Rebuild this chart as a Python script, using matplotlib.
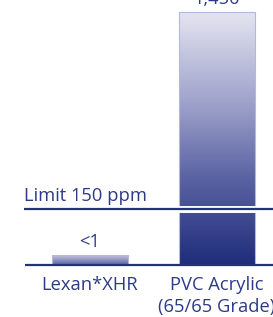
import numpy as np
import matplotlib
matplotlib.use("Agg")
import matplotlib.pyplot as plt
from matplotlib.colors import LinearSegmentedColormap

categories = ["Lexan*XHR", "PVC Acrylic\n(65/65 Grade)"]
values_ppm = [1, 1450]
value_labels = ["<1", "1,450"]
limit_ppm = 150
limit_label = "Limit 150 ppm"

navy = "#24327e"
text_col = "#2d3b86"
fs = 13.2
plt.rcParams['font.family'] = ['Open Sans', 'DejaVu Sans']

# chart is not drawn to a linear scale: a power scale fits bar and limit line
p = 0.665
fwd = lambda v: np.sign(v) * np.abs(v) ** p
inv = lambda t: np.sign(t) * np.abs(t) ** (1 / p)
min_visible = 11  # "<1" is shown as a small stub

W, H = 273, 317
fig = plt.figure(figsize=(W / 100, H / 100), dpi=100)
ax = fig.add_axes([0, 0, 1, 1])
ax.set_axis_off()
ax.set_yscale('function', functions=(fwd, inv))

x = np.arange(len(categories))
xmin, xmax = -90 / 127, (W - 90) / 127
ax.set_xlim(xmin, xmax)
base_frac, top_frac = 52 / H, 305 / H
span = fwd(max(values_ppm)) / (top_frac - base_frac)
ax.set_ylim(inv(-base_frac * span), inv((1 - base_frac) * span))

heights = [max(v, min_visible) for v in values_ppm]
bars = ax.bar(x, heights, width=0.606, color='none', edgecolor='#b4b8da', linewidth=0.8, zorder=2)

big_cmap = LinearSegmentedColormap.from_list(
    'big', [(0, '#e4e4f0'), (0.35, '#a0a4cc'), (0.66, '#5a62a2'), (1, '#1e2c7a')])
small_cmap = LinearSegmentedColormap.from_list('small', ['#c4c6e0', '#5860a0'])
grad = np.linspace(0, 1, 256).reshape(-1, 1)
to_axes = ax.transData + ax.transAxes.inverted()
for bar, cmap in zip(bars, [small_cmap, big_cmap]):
    (x0, y0), (x1, y1) = to_axes.transform([[bar.get_x(), 0], [bar.get_x() + bar.get_width(), bar.get_height()]])
    im = ax.imshow(grad, cmap=cmap, aspect='auto', extent=(x0, x1, y0, y1),
                   transform=ax.transAxes, zorder=1)
    im.set_clip_path(bar)
ax.set_xlim(xmin, xmax)

# limit line with a white gap where it crosses the bar
line_x0 = xmin + 24 / 127
ax.plot([line_x0, xmax], [limit_ppm, limit_ppm], color='white', lw=5, zorder=3, solid_capstyle='butt')
ax.plot([line_x0, xmax], [limit_ppm, limit_ppm], color=navy, lw=1.6, zorder=4, solid_capstyle='butt')
ax.plot([xmin + 25 / 127, xmax], [0, 0], color=navy, lw=1.6, zorder=4, solid_capstyle='butt')

ax.annotate(limit_label, (line_x0, limit_ppm), xytext=(0, 6), textcoords='offset points',
            ha='left', va='baseline', color=text_col, fontsize=fs)

for xi, h, lab in zip(x, heights, value_labels):
    ax.annotate(lab, (xi, h), xytext=(0, 6), textcoords='offset points',
                ha='center', va='baseline', color=text_col, fontsize=fs)

for xi, cat in zip(x, categories):
    ax.text(xi, 41 / H, cat, transform=ax.get_xaxis_transform(), ha='center', va='top',
            color=text_col, fontsize=fs, linespacing=1.32)

fig.savefig("out.png", dpi=100)
